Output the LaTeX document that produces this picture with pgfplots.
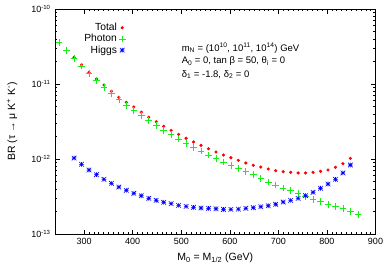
\documentclass[border=0pt]{standalone}
\usepackage{pgfplots}
\pgfplotsset{compat=1.18}
\usepackage{pgfplotstable}
\usepackage{fontspec}
\setmainfont{Liberation Sans}
\definecolor{gpred}{RGB}{255,0,0}
\definecolor{gpgreen}{RGB}{20,240,20}
\definecolor{gpblue}{RGB}{0,0,255}
\pgfdeclareplotmark{gstar}{%
  \pgfpathmoveto{\pgfqpoint{-\pgfplotmarksize}{0pt}}\pgfpathlineto{\pgfqpoint{\pgfplotmarksize}{0pt}}%
  \pgfpathmoveto{\pgfqpoint{0pt}{-\pgfplotmarksize}}\pgfpathlineto{\pgfqpoint{0pt}{\pgfplotmarksize}}%
  \pgfpathmoveto{\pgfqpoint{-\pgfplotmarksize}{-\pgfplotmarksize}}\pgfpathlineto{\pgfqpoint{\pgfplotmarksize}{\pgfplotmarksize}}%
  \pgfpathmoveto{\pgfqpoint{-\pgfplotmarksize}{\pgfplotmarksize}}\pgfpathlineto{\pgfqpoint{\pgfplotmarksize}{-\pgfplotmarksize}}%
  \pgfusepathqstroke}

\pgfplotstableread{
x y
248.5 3.56e-11
263.9 2.78e-11
279.3 2.20e-11
294.6 1.74e-11
310.0 1.39e-11
325.4 1.12e-11
340.8 9.04e-12
356.2 7.43e-12
371.5 6.18e-12
386.9 5.14e-12
402.3 4.46e-12
417.7 3.77e-12
433.1 3.24e-12
448.4 2.78e-12
463.8 2.41e-12
479.2 2.13e-12
494.6 1.85e-12
510.0 1.62e-12
525.3 1.43e-12
540.7 1.28e-12
556.1 1.13e-12
571.5 1.02e-12
586.9 9.12e-13
602.2 8.24e-13
617.6 7.43e-13
633.0 6.77e-13
648.4 6.18e-13
663.8 5.53e-13
679.1 4.94e-13
694.5 4.50e-13
709.9 4.11e-13
725.3 3.78e-13
740.7 3.49e-13
756.0 3.18e-13
771.4 2.90e-13
786.8 2.70e-13
802.2 2.49e-13
817.6 2.31e-13
832.9 2.17e-13
848.3 1.98e-13
863.7 1.83e-13
}\photon

\pgfplotstableread{
x y
279.3 2.27e-11
294.6 1.81e-11
310.0 1.43e-11
325.4 1.17e-11
340.8 9.70e-12
356.2 7.99e-12
371.5 6.65e-12
386.9 5.70e-12
402.3 4.94e-12
417.7 4.21e-12
433.1 3.60e-12
448.4 3.14e-12
463.8 2.73e-12
479.2 2.41e-12
494.6 2.13e-12
510.0 1.89e-12
525.3 1.69e-12
540.7 1.52e-12
556.1 1.37e-12
571.5 1.24e-12
586.9 1.13e-12
602.2 1.04e-12
617.6 9.61e-13
633.0 8.85e-13
648.4 8.24e-13
663.8 7.82e-13
679.1 7.36e-13
694.5 6.98e-13
709.9 6.77e-13
725.3 6.65e-13
740.7 6.51e-13
756.0 6.51e-13
771.4 6.65e-13
786.8 6.85e-13
802.2 7.13e-13
817.6 7.75e-13
832.9 8.66e-13
848.3 1.02e-12
}\total

\pgfplotstableread{
x y
279.3 1.03e-12
294.6 8.50e-13
310.0 7.13e-13
325.4 6.18e-13
340.8 5.36e-13
356.2 4.74e-13
371.5 4.23e-13
386.9 3.83e-13
402.3 3.49e-13
417.7 3.24e-13
433.1 2.99e-13
448.4 2.81e-13
463.8 2.65e-13
479.2 2.54e-13
494.6 2.41e-13
510.0 2.34e-13
525.3 2.27e-13
540.7 2.22e-13
556.1 2.20e-13
571.5 2.17e-13
586.9 2.13e-13
602.2 2.13e-13
617.6 2.15e-13
633.0 2.20e-13
648.4 2.24e-13
663.8 2.31e-13
679.1 2.38e-13
694.5 2.49e-13
709.9 2.67e-13
725.3 2.81e-13
740.7 2.99e-13
756.0 3.24e-13
771.4 3.60e-13
786.8 4.07e-13
802.2 4.64e-13
817.6 5.36e-13
832.9 6.51e-13
848.3 8.32e-13
}\higgs

\begin{document}
\begin{tikzpicture}
\begin{semilogyaxis}[
  scale only axis,
  width=320.5pt, height=225pt,
  xmin=240, xmax=900,
  ymin=1e-13, ymax=1e-10,
  axis line style={line width=0.8pt},
  tick align=inside,
  major tick length=4.5pt,
  minor tick length=2.2pt,
  every tick/.style={black, line width=0.5pt},
  xtick={300,400,500,600,700,800,900},
  xticklabels={300,400,500,600,700,800,900},
  minor x tick num=9,
  ytick={1e-13,1e-12,1e-11,1e-10},
  yticklabels={10\textsuperscript{-13},10\textsuperscript{-12},10\textsuperscript{-11},10\textsuperscript{-10}},
  tick label style={font=\fontsize{9}{10}\selectfont},
  xticklabel style={yshift=-0.5pt},
  yticklabel style={xshift=-1pt},
  xlabel={M\textsubscript{0} = M\textsubscript{1/2} (GeV)},
  ylabel={BR (τ → μ K\textsuperscript{+} K\textsuperscript{-})},
  label style={font=\fontsize{10.5}{12}\selectfont},
  xlabel style={at={(axis description cs:0.5,-0.107)},anchor=center},
  ylabel style={at={(axis description cs:-0.134,0.5)},anchor=center},
  legend plot pos=right,
  legend cell align=right,
  legend style={draw=none, fill=none, font=\fontsize{10.3}{11}\selectfont,
    at={(axis description cs:0.23,0.955)}, anchor=north east,
    row sep=-1.8pt},
]
\addplot[only marks, mark=*, mark size=1.4pt, color=gpred] table[x=x,y=y] {\total};
\addlegendentry{Total}
\addplot[only marks, mark=+, mark size=3.3pt, color=gpgreen, line width=0.7pt] table[x=x,y=y] {\photon};
\addlegendentry{Photon}
\addplot[only marks, mark=gstar, mark size=2.3pt, color=gpblue, line width=0.6pt] table[x=x,y=y] {\higgs};
\addlegendentry{Higgs}
\node[anchor=west, font=\fontsize{9.5}{11}\selectfont, inner sep=0pt] at (axis description cs:0.395,0.827) {m\textsubscript{N} = (10\textsuperscript{10}, 10\textsuperscript{11}, 10\textsuperscript{14}) GeV};
\node[anchor=west, font=\fontsize{9.5}{11}\selectfont, inner sep=0pt] at (axis description cs:0.395,0.767) {A\textsubscript{0} = 0, tan β = 50, θ\textsubscript{i} = 0};
\node[anchor=west, font=\fontsize{9.5}{11}\selectfont, inner sep=0pt] at (axis description cs:0.395,0.708) {δ\textsubscript{1} = -1.8, δ\textsubscript{2} = 0};
\end{semilogyaxis}
\path ([xshift=-55pt,yshift=-39pt]current axis.south west) rectangle ([xshift=13.5pt,yshift=9pt]current axis.north east);
\end{tikzpicture}
\end{document}
